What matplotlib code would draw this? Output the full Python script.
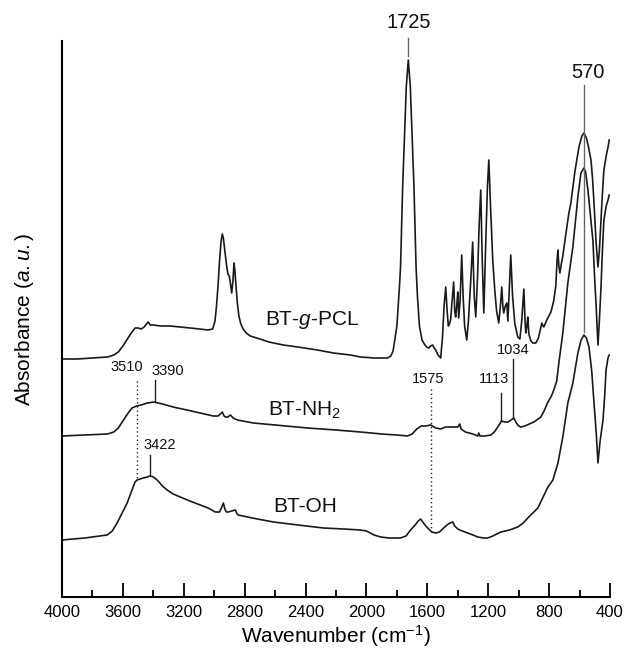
import matplotlib
matplotlib.use("Agg")
import matplotlib.pyplot as plt
from matplotlib.ticker import MultipleLocator

plt.rcParams['font.family'] = ['Liberation Sans', 'DejaVu Sans']
plt.rcParams['mathtext.fontset'] = 'custom'
plt.rcParams['mathtext.rm'] = 'Liberation Sans'
plt.rcParams['mathtext.it'] = 'Liberation Sans:italic'

# ---- data (wavenumber cm^-1, absorbance a.u.) ----
pcl_wn = [4000, 3900, 3800, 3700, 3660, 3630, 3600, 3570, 3545, 3520, 3500, 3480, 3460,
          3445, 3434, 3420, 3400, 3350, 3289, 3220, 3158, 3100, 3039, 3010, 2995, 2985,
          2975, 2965, 2955, 2947, 2940, 2930, 2920, 2910, 2901, 2893, 2885, 2877, 2870,
          2864, 2856, 2848, 2838, 2825, 2810, 2790, 2763, 2700, 2640, 2546, 2450, 2322,
          2217, 2105, 2039, 1950, 1861, 1840, 1825, 1800, 1785, 1776, 1762, 1749, 1738,
          1725, 1712, 1701, 1688, 1674, 1665, 1652, 1635, 1620, 1605, 1591, 1578, 1565,
          1555, 1545, 1530, 1512, 1500, 1490, 1479, 1470, 1462, 1455, 1447, 1440, 1427,
          1420, 1414, 1407, 1400, 1394, 1385, 1374, 1365, 1355, 1341, 1330, 1315, 1302,
          1292, 1282, 1270, 1260, 1249, 1240, 1229, 1215, 1205, 1196, 1185, 1170, 1157,
          1145, 1131, 1120, 1111, 1104, 1098, 1088, 1078, 1071, 1062, 1052, 1040, 1025,
          1006, 992, 980, 966, 958, 953, 946, 940, 933, 920, 907, 887, 870, 848, 840, 835,
          815, 788, 770, 756, 748, 742, 736, 729, 720, 710, 690, 670, 657, 630, 604, 585,
          571, 555, 540, 525, 515, 505, 492, 479, 470, 459, 450, 440, 425, 413, 405]
pcl_ab = [2.37, 2.37, 2.38, 2.39, 2.41, 2.44, 2.50, 2.57, 2.63, 2.68, 2.68, 2.67, 2.69,
          2.72, 2.74, 2.71, 2.71, 2.70, 2.70, 2.69, 2.68, 2.67, 2.66, 2.67, 2.75, 2.90,
          3.10, 3.35, 3.55, 3.62, 3.58, 3.45, 3.32, 3.22, 3.20, 3.12, 3.03, 3.15, 3.33,
          3.25, 3.08, 2.93, 2.80, 2.72, 2.67, 2.63, 2.60, 2.57, 2.54, 2.51, 2.49, 2.46,
          2.43, 2.41, 2.39, 2.38, 2.38, 2.40, 2.45, 2.70, 3.05, 3.29, 4.10, 4.63, 5.10,
          5.36, 5.10, 4.63, 4.10, 3.29, 3.00, 2.70, 2.56, 2.52, 2.49, 2.48, 2.50, 2.51,
          2.48, 2.46, 2.41, 2.38, 2.60, 2.90, 3.09, 2.85, 2.70, 2.72, 2.76, 2.90, 3.14,
          2.85, 2.79, 2.90, 3.04, 2.78, 2.95, 3.41, 3.00, 2.70, 2.56, 2.75, 3.15, 3.54,
          3.00, 2.79, 3.20, 3.70, 4.06, 3.40, 2.83, 3.60, 4.10, 4.36, 3.90, 3.35, 3.06,
          2.85, 2.73, 2.90, 3.09, 2.90, 2.83, 2.90, 2.93, 2.75, 3.05, 3.41, 3.00, 2.72,
          2.59, 2.57, 2.75, 3.07, 2.75, 2.63, 2.70, 2.79, 2.62, 2.55, 2.53, 2.53, 2.58, 2.73, 2.70, 2.69,
          2.76, 2.84, 2.95, 3.10, 3.35, 3.46, 3.30, 3.23, 3.32, 3.40, 3.62, 3.83, 3.93, 4.25, 4.49, 4.60,
          4.63, 4.58, 4.48, 4.36, 4.18, 3.93, 3.55, 3.29, 3.45, 3.76, 4.02, 4.26, 4.40, 4.49, 4.56]

nh2_wn = [4000, 3850, 3700, 3660, 3630, 3600, 3570, 3540, 3510, 3480, 3441, 3395, 3340,
          3270, 3150, 3006, 2975, 2960, 2947, 2935, 2927, 2910, 2894, 2875, 2848, 2743,
          2600, 2388, 2200, 2039, 1900, 1800, 1730, 1700, 1670, 1640, 1610, 1578, 1545,
          1512, 1480, 1447, 1400, 1387, 1378, 1350, 1300, 1269, 1262, 1255, 1220, 1183,
          1160, 1137, 1113, 1090, 1071, 1050, 1032, 1015, 1000, 986, 960, 930, 900, 854,
          830, 808, 785, 769, 750, 736, 710, 677, 644, 611, 591, 571, 560, 545, 525, 512,
          500, 492, 485, 479, 470, 459, 450, 440, 425, 413, 405]
nh2_ab = [1.60, 1.61, 1.62, 1.64, 1.68, 1.75, 1.82, 1.88, 1.90, 1.91, 1.93, 1.94, 1.92,
          1.89, 1.85, 1.80, 1.80, 1.82, 1.84, 1.80, 1.79, 1.79, 1.81, 1.78, 1.76, 1.73,
          1.71, 1.68, 1.66, 1.64, 1.62, 1.61, 1.60, 1.62, 1.67, 1.70, 1.70, 1.71, 1.68,
          1.67, 1.69, 1.69, 1.69, 1.72, 1.67, 1.64, 1.62, 1.60, 1.63, 1.60, 1.60, 1.61,
          1.64, 1.69, 1.75, 1.74, 1.74, 1.76, 1.78, 1.73, 1.70, 1.69, 1.70, 1.72, 1.74, 1.79,
          1.86, 1.94, 2.00, 2.06, 2.15, 2.33, 2.63, 3.13, 3.49, 3.99, 4.23, 4.28, 4.24, 4.06,
          3.75, 3.55, 3.15, 2.93, 2.70, 2.51, 2.75, 3.09, 3.45, 3.76, 3.90, 3.96, 4.01]

oh_wn = [4000, 3850, 3704, 3670, 3638, 3605, 3572, 3545, 3520, 3506, 3467, 3440, 3422,
         3400, 3375, 3340, 3309, 3270, 3223, 3160, 3092, 3040, 2993, 2965, 2950, 2940,
         2930, 2920, 2908, 2885, 2861, 2850, 2842, 2750, 2611, 2450, 2282, 2150, 2039,
         2000, 1950, 1907, 1850, 1776, 1740, 1710, 1680, 1660, 1644, 1630, 1610, 1591,
         1570, 1545, 1520, 1493, 1470, 1452, 1433, 1420, 1400, 1370, 1335, 1300, 1269,
         1230, 1203, 1170, 1117, 1060, 1006, 970, 940, 874, 808, 775, 742, 710, 677, 644,
         611, 590, 571, 555, 538, 520, 505, 490, 479, 465, 446, 435, 426, 413, 405]
oh_ab = [0.56, 0.58, 0.61, 0.65, 0.73, 0.83, 0.93, 1.04, 1.14, 1.16, 1.18, 1.19, 1.20,
         1.19, 1.16, 1.10, 1.06, 1.02, 0.99, 0.95, 0.91, 0.88, 0.84, 0.84, 0.89, 0.93,
         0.87, 0.84, 0.84, 0.85, 0.86, 0.82, 0.81, 0.78, 0.74, 0.71, 0.68, 0.67, 0.66,
         0.65, 0.61, 0.59, 0.58, 0.58, 0.60, 0.66, 0.71, 0.75, 0.77, 0.74, 0.70, 0.67,
         0.64, 0.63, 0.64, 0.68, 0.71, 0.73, 0.74, 0.70, 0.67, 0.65, 0.63, 0.61, 0.59,
         0.58, 0.58, 0.60, 0.64, 0.66, 0.69, 0.73, 0.78, 0.88, 1.09, 1.16, 1.33, 1.59, 1.93, 2.13,
         2.43, 2.56, 2.61, 2.58, 2.49, 2.25, 1.93, 1.62, 1.33, 1.55, 1.76, 2.00, 2.26, 2.38, 2.41]

curve_labels = ['BT-$\\it{g}$-PCL', 'BT-NH$_2$', 'BT-OH']
curve_label_pos = [(2664, 2.76), (2644, 1.86), (2611, 0.89)]

xticks = [4000, 3600, 3200, 2800, 2400, 2000, 1600, 1200, 800, 400]

fig = plt.figure(figsize=(6.24, 6.51), dpi=100)
ax = fig.add_axes([62/624, 54/651, 548/624, 556/651])

lc = '#1a1a1a'
for wn, ab in [(pcl_wn, pcl_ab), (nh2_wn, nh2_ab), (oh_wn, oh_ab)]:
    ax.plot(wn, ab, color=lc, lw=1.2)

for lbl, (xx, yy) in zip(curve_labels, curve_label_pos):
    ax.text(xx, yy, lbl, fontsize=15, ha='left', va='center', color='#111')

gray = '#666666'
# peak markers
ax.plot([1725, 1725], [5.40, 5.58], color=gray, lw=1.0, clip_on=False)
ax.text(1725, 5.73, '1725', fontsize=14.5, ha='center', va='center', color='#111')
ax.plot([570, 570], [2.64, 5.11], color=gray, lw=1.0, clip_on=False)
ax.text(545, 5.23, '570', fontsize=14.5, ha='center', va='center', color='#111')

ax.plot([3510, 3510], [1.18, 2.18], color='#222', lw=1.0, ls=(0, (1, 2)))
ax.text(3572, 2.29, '3510', fontsize=10.5, ha='center', va='center', color='#111')
ax.plot([3390, 3390], [1.94, 2.16], color='#222', lw=1.0)
ax.text(3302, 2.25, '3390', fontsize=10.5, ha='center', va='center', color='#111')
ax.plot([3422, 3422], [1.21, 1.41], color='#222', lw=1.0)
ax.text(3355, 1.51, '3422', fontsize=10.5, ha='center', va='center', color='#111')
ax.plot([1575, 1575], [0.64, 2.08], color='#222', lw=1.0, ls=(0, (1, 2)))
ax.text(1598, 2.17, '1575', fontsize=10.5, ha='center', va='center', color='#111')
ax.plot([1113, 1113], [1.75, 2.03], color='#222', lw=1.0)
ax.text(1162, 2.17, '1113', fontsize=10.5, ha='center', va='center', color='#111')
ax.plot([1034, 1034], [1.78, 2.37], color='#222', lw=1.0)
ax.text(1038, 2.46, '1034', fontsize=10.5, ha='center', va='center', color='#111')

ax.set_xlim(4000, 400)
ax.set_ylim(-0.01, 5.55)
ax.spines['top'].set_visible(False)
ax.spines['right'].set_visible(False)
ax.spines['left'].set_linewidth(1.5)
ax.spines['bottom'].set_linewidth(1.5)
ax.set_yticks([])
ax.set_xticks(xticks)
ax.xaxis.set_minor_locator(MultipleLocator(200))
ax.tick_params(axis='x', which='major', direction='in', length=10, width=1.3, pad=6, labelsize=12)
ax.tick_params(axis='x', which='minor', direction='in', length=5, width=1.3)
ax.set_xlabel('Wavenumber (cm$^{-1}$)', fontsize=15, labelpad=2)
ax.set_ylabel('Absorbance ($\\it{a.u.}$)', fontsize=15, labelpad=19)

fig.savefig('out.png', dpi=100)
